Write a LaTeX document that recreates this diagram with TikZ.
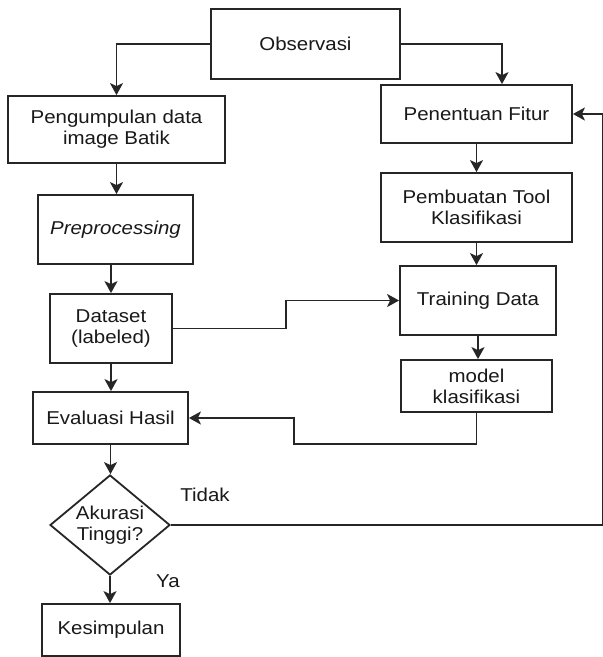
\documentclass[tikz,border=0pt]{standalone}
\usepackage{fontspec}
\setmainfont{Liberation Sans}[FakeStretch=1.1]
\usetikzlibrary{shapes.geometric,arrows.meta}
\begin{document}
\begin{tikzpicture}[x=1pt,y=-1pt,
        every node/.style={font=\fontsize{18.6}{21}\selectfont, text=black!90},
        box/.style={draw=black!85, line width=1.8pt, align=center, inner sep=0pt},
        decision/.style={diamond, aspect=1.2, draw=black!85, line width=1.8pt, align=center, inner sep=0pt, minimum width=120pt, minimum height=100pt},
        conn/.style={draw=black!85, line width=1.8pt, -{Stealth[length=12pt,width=13pt,inset=3pt]}}]
      \path[fill=white, use as bounding box] (0,0) rectangle (603,657);
      \node[box, minimum width=189pt, minimum height=70pt] (obs) at (305.5,44) {Observasi};
      \node[box, minimum width=217pt, minimum height=67pt] (kumpul) at (116.5,129.5) {Pengumpulan data\\image Batik};
      \node[box, minimum width=155pt, minimum height=69pt] (prep) at (115.5,229.5) {\textit{Preprocessing}};
      \node[box, minimum width=122pt, minimum height=69pt] (dataset) at (111,328.5) {Dataset\\(labeled)};
      \node[box, minimum width=155pt, minimum height=52pt] (eval) at (110.5,418) {Evaluasi Hasil};
      \node[decision] (akurasi) at (110,525) {Akurasi\\Tinggi?};
      \node[box, minimum width=138pt, minimum height=52pt] (simpul) at (111,630) {Kesimpulan};
      \node[box, minimum width=191pt, minimum height=58pt] (fitur) at (476.5,114) {Penentuan Fitur};
      \node[box, minimum width=191pt, minimum height=69pt] (tool) at (476.5,207.5) {Pembuatan Tool\\Klasifikasi};
      \node[box, minimum width=156pt, minimum height=69pt] (train) at (478,300.5) {Training Data};
      \node[box, minimum width=151pt, minimum height=52pt] (model) at (476.5,386) {model\\klasifikasi};
      \node (tidak) at (205,495) {Tidak};
      \node (ya) at (168,581) {Ya};
      \coordinate (jog) at (286,315);
      \coordinate (balik) at (294,444);
      \coordinate (tepi) at (603,525);
      \draw[conn] (obs.west) -| (kumpul.north);
      \draw[conn] (obs.east) -| ([xshift=25.5pt]fitur.north);
      \draw[conn] (kumpul.south) -- (kumpul.south |- prep.north);
      \draw[conn] (dataset.north |- prep.south) -- (dataset.north);
      \draw[conn] (dataset.south) -- (dataset.south |- eval.north);
      \draw[conn] (eval.south) -- (eval.south |- akurasi.north);
      \draw[conn] (akurasi.south) -- (akurasi.south |- simpul.north);
      \draw[conn] (fitur.south) -- (fitur.south |- tool.north);
      \draw[conn] (tool.south) -- (tool.south |- train.north);
      \draw[conn] (train.south) -- (train.south |- model.north);
      \draw[conn] (dataset.east) -| (jog) |- (train.west);
      \draw[conn] (model.south) |- (balik) |- (eval.east);
      \draw[conn] (akurasi.east) -- (tepi) |- (fitur.east);
      \end{tikzpicture}
\end{document}
